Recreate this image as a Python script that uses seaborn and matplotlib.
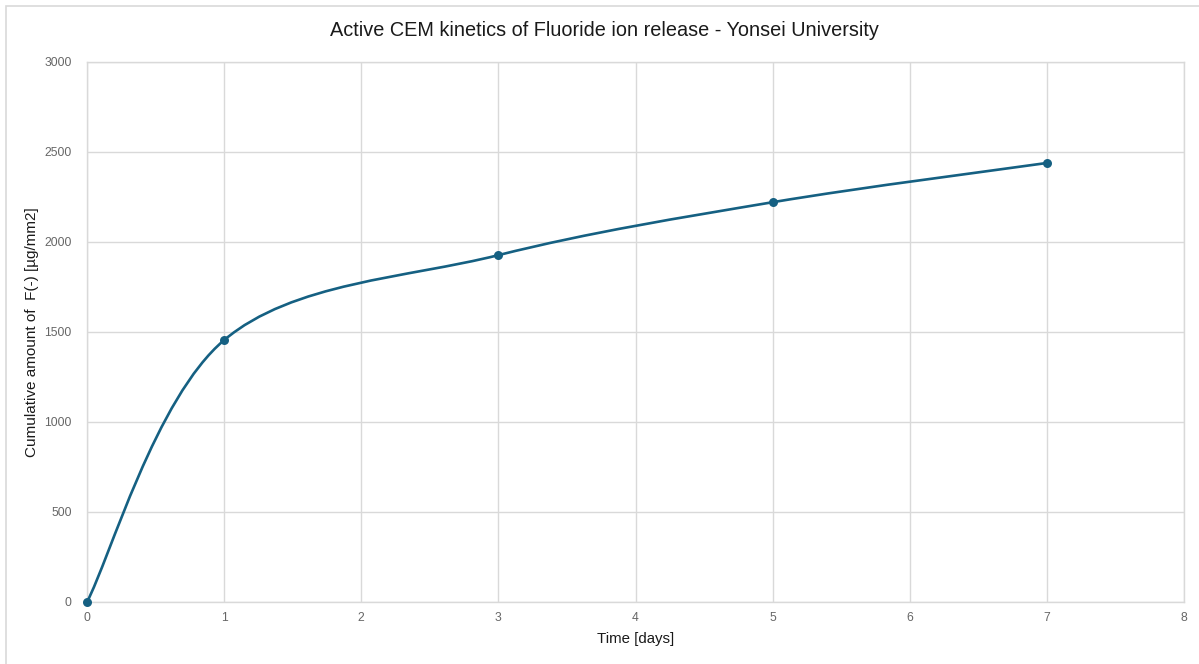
import numpy as np
import pandas as pd
import matplotlib
matplotlib.use("Agg")
import matplotlib.pyplot as plt
import seaborn as sns
from matplotlib.path import Path
from matplotlib.patches import PathPatch, Rectangle

# data
days = [0, 1, 3, 5, 7]
fluoride = [0, 1455, 1927, 2221, 2439]

title = "Active CEM kinetics of Fluoride ion release - Yonsei University"
x_label = "Time [days]"
y_label = "Cumulative amount of  F(-) [µg/mm2]"

line_color = "#156082"
grid_color = "#d9d9d9"
text_color = "#595959"

sns.set_theme(style="white")
plt.rcParams["font.family"] = ["Liberation Sans", "DejaVu Sans"]

df = pd.DataFrame({"day": days, "amount": fluoride})

fig = plt.figure(figsize=(11.99, 6.64), dpi=100)
ax = fig.add_axes([87 / 1199, 1 - 602 / 664, 1097 / 1199, 540 / 664])

# chart area border like a spreadsheet chart
fig.patches.append(Rectangle((6 / 1199, -0.01), 1.02, 1 - 6 / 664 + 0.01,
                             transform=fig.transFigure, fill=False,
                             edgecolor=grid_color, linewidth=1.2))


def smooth_path(xs, ys):
    # spreadsheet-style smoothed line: cubic Bezier through every point
    pts = np.column_stack([xs, ys]).astype(float)
    n = len(pts)
    verts = [pts[0]]
    codes = [Path.MOVETO]
    for i in range(n - 1):
        p_prev = pts[i - 1] if i > 0 else pts[i]
        p_next2 = pts[i + 2] if i + 2 < n else pts[i + 1]
        c1 = pts[i] + (pts[i + 1] - p_prev) / 6
        c2 = pts[i + 1] - (p_next2 - pts[i]) / 6
        verts += [c1, c2, pts[i + 1]]
        codes += [Path.CURVE4] * 3
    return Path(verts, codes)


ax.add_patch(PathPatch(smooth_path(df["day"], df["amount"]), fill=False,
                       edgecolor=line_color, linewidth=1.9, zorder=3,
                       capstyle="round"))
sns.scatterplot(data=df, x="day", y="amount", ax=ax, color=line_color,
                s=42, edgecolor=line_color, linewidth=0, zorder=4, clip_on=False)

ax.set_xlim(0, 8)
ax.set_ylim(0, 3000)
ax.set_xticks(range(0, 9))
ax.set_yticks(range(0, 3001, 500))
ax.grid(True, color=grid_color, linewidth=1)
ax.set_axisbelow(True)
for side, spine in ax.spines.items():
    spine.set_color(grid_color)
    spine.set_linewidth(1)
ax.tick_params(axis="both", length=0, labelsize=8.7, colors="#666666")
ax.tick_params(axis="x", pad=7)
ax.tick_params(axis="y", pad=11)

ax.set_xlabel(x_label, fontsize=10.8, color="#1a1a1a", labelpad=6)
ax.set_ylabel(y_label, fontsize=11, color="#1a1a1a", labelpad=4)
fig.text(604 / 1199, 1 - 31 / 664, title, ha="center", va="center",
         fontsize=14.3, color="#1a1a1a")

fig.savefig("out.png", dpi=100, facecolor="white")
